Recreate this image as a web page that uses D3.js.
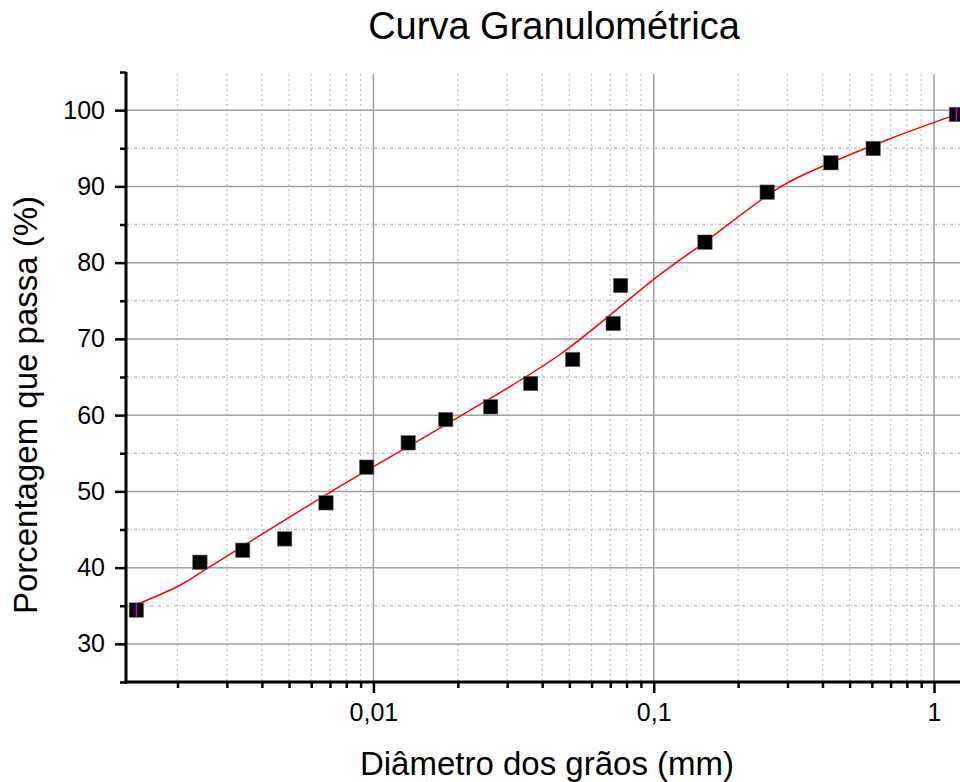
<!DOCTYPE html>
<html>
<head>
<meta charset="utf-8">
<script src="https://cdn.jsdelivr.net/npm/d3@7/dist/d3.min.js"></script>
<style>
  html, body { margin: 0; padding: 0; background: #fff; }
  svg { display: block; font-family: "Liberation Sans", Arial, sans-serif; }
</style>
</head>
<body>
<svg id="chart" width="960" height="782"></svg>
<script>
// ---- Data ----
const diameters = [0.001427, 0.002404, 0.003415, 0.004821, 0.00677, 0.009456, 0.01331, 0.0181,
                   0.02619, 0.03638, 0.05137, 0.0717, 0.07616, 0.1523, 0.254, 0.4287, 0.6068, 1.2018];
const passing   = [34.43, 40.70, 42.28, 43.77, 48.50, 53.17, 56.37, 59.42,
                   61.09, 64.15, 67.30, 72.02, 77.00, 82.68, 89.24, 93.10, 94.97, 99.43];

// fitted curve
const fitDiam = [0.001427, 0.00204, 0.002568, 0.00717, 0.0204, 0.04627, 0.1016, 0.1523, 0.2859, 0.4287, 0.6963, 1.2037];
const fitPass = [35.16, 37.69, 39.97, 50.1, 59.86, 67.95, 78.0, 82.7, 90.03, 93.1, 96.25, 99.44];

const xMajorTicks = [0.01, 0.1, 1];
const xTickLabels = ["0,01", "0,1", "1"];
const yMajorTicks = [30, 40, 50, 60, 70, 80, 90, 100];
const yMinorTicks = [25, 35, 45, 55, 65, 75, 85, 95, 105];

const titleText = "Curva Granulométrica";
const xTitle = "Diâmetro dos grãos (mm)";
const yTitle = "Porcentagem que passa (%)";

// ---- Scales ----
const pLeft = 126, pBottom = 682, pTop = 72;
const decadePx = 280.3;
const xDomain = [0.00131, 1.6];
const x = d3.scaleLog().domain(xDomain)
  .range([pLeft, pLeft + decadePx * Math.log10(xDomain[1] / xDomain[0])]);
const y = d3.scaleLinear().domain([25, 105]).range([pBottom, pTop]);

const xMinorTicks = [];
for (let k = -3; k <= 0; k++) {
  for (let m = 2; m <= 9; m++) {
    const v = m * Math.pow(10, k);
    if (v > xDomain[0] && v < xDomain[1]) xMinorTicks.push(v);
  }
}

const svg = d3.select("#chart");
const W = 960;

// ---- Grid ----
const grid = svg.append("g");
grid.selectAll("line.vmin").data(xMinorTicks).join("line")
  .attr("x1", d => x(d)).attr("x2", d => x(d))
  .attr("y1", pTop + 2).attr("y2", pBottom)
  .attr("stroke", "#c4c4c4").attr("stroke-width", 1.3).attr("stroke-dasharray", "2,3");
grid.selectAll("line.hmin").data(yMinorTicks.filter(d => d > 25 && d < 105)).join("line")
  .attr("x1", pLeft).attr("x2", W + 40)
  .attr("y1", d => y(d)).attr("y2", d => y(d))
  .attr("stroke", "#c4c4c4").attr("stroke-width", 1.3).attr("stroke-dasharray", "3,2,1,2");
grid.selectAll("line.vmaj").data(xMajorTicks).join("line")
  .attr("x1", d => x(d)).attr("x2", d => x(d))
  .attr("y1", pTop + 2).attr("y2", pBottom)
  .attr("stroke", "#a0a0a0").attr("stroke-width", 1.5);
grid.selectAll("line.hmaj").data(yMajorTicks).join("line")
  .attr("x1", pLeft).attr("x2", W + 40)
  .attr("y1", d => y(d)).attr("y2", d => y(d))
  .attr("stroke", "#a0a0a0").attr("stroke-width", 1.5);

// ---- Axes ----
const yAxisMajor = d3.axisLeft(y).tickValues(yMajorTicks).tickSize(11).tickPadding(10)
  .tickFormat(d3.format("d"));
const yAxisMinor = d3.axisLeft(y).tickValues(yMinorTicks).tickSize(6).tickFormat("");
const xAxisMajor = d3.axisBottom(x).tickValues(xMajorTicks).tickSize(11).tickPadding(10)
  .tickFormat((d, i) => xTickLabels[i]);
const xAxisMinor = d3.axisBottom(x).tickValues(xMinorTicks).tickSize(6).tickFormat("");

function styleAxis(g) {
  g.select(".domain").remove();
  g.selectAll(".tick line").attr("stroke", "#000").attr("stroke-width", 2.5);
  g.selectAll(".tick text").attr("fill", "#000").style("font-size", "25px")
    .style("font-family", "'Liberation Sans', Arial, sans-serif");
}

svg.append("g").attr("transform", `translate(${pLeft},0)`).call(yAxisMinor).call(styleAxis);
svg.append("g").attr("transform", `translate(${pLeft},0)`).call(yAxisMajor).call(styleAxis);
svg.append("g").attr("transform", `translate(0,${pBottom})`).call(xAxisMinor).call(styleAxis);
svg.append("g").attr("transform", `translate(0,${pBottom})`).call(xAxisMajor).call(styleAxis);

// axis lines
svg.append("line").attr("x1", pLeft).attr("x2", pLeft).attr("y1", pTop).attr("y2", pBottom + 1.5)
  .attr("stroke", "#000").attr("stroke-width", 3);
svg.append("line").attr("x1", pLeft - 1.5).attr("x2", W + 40).attr("y1", pBottom).attr("y2", pBottom)
  .attr("stroke", "#000").attr("stroke-width", 3);

// ---- Fit curve ----
const line = d3.line().x(d => x(d[0])).y(d => y(d[1])).curve(d3.curveCatmullRom.alpha(0.5));
svg.append("path").datum(fitDiam.map((d, i) => [d, fitPass[i]]))
  .attr("d", line).attr("fill", "none").attr("stroke", "#ff0000").attr("stroke-width", 1.5);

// ---- Markers ----
const ms = 14.5;
svg.append("g").selectAll("rect").data(diameters.map((d, i) => [d, passing[i]])).join("rect")
  .attr("x", d => x(d[0]) - ms / 2).attr("y", d => y(d[1]) - ms / 2)
  .attr("width", ms).attr("height", ms)
  .attr("fill", "#000").attr("stroke", "#777").attr("stroke-width", 0.6);

// data-range indicators on first and last points
const ends = [[diameters[0], passing[0]], [diameters[diameters.length - 1], passing[passing.length - 1]]];
svg.append("g").selectAll("line").data(ends).join("line")
  .attr("x1", d => x(d[0])).attr("x2", d => x(d[0]))
  .attr("y1", d => y(d[1]) - 6.5).attr("y2", d => y(d[1]) + 6.5)
  .attr("stroke", "#d000d0").attr("stroke-width", 1.6);

// ---- Titles ----
svg.append("text").attr("x", 554).attr("y", 39).attr("text-anchor", "middle")
  .style("font-size", "38px").attr("fill", "#000").text(titleText);
svg.append("text").attr("x", 547).attr("y", 775).attr("text-anchor", "middle")
  .style("font-size", "33px").attr("fill", "#000").text(xTitle);
svg.append("text").attr("transform", "translate(37,405) rotate(-90)").attr("text-anchor", "middle")
  .style("font-size", "33px").attr("fill", "#000").text(yTitle);
</script>
</body>
</html>
